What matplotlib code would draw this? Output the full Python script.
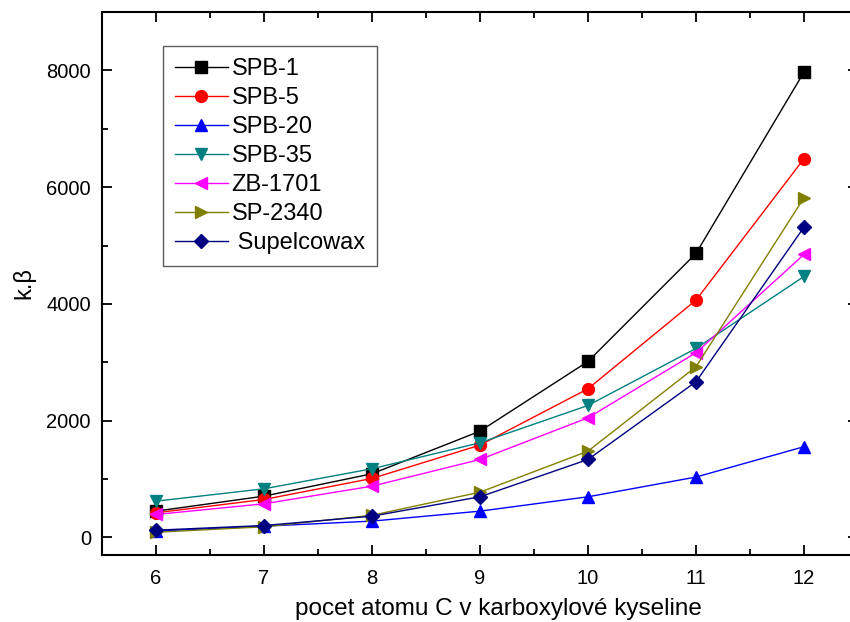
import matplotlib
matplotlib.use("Agg")
import matplotlib.pyplot as plt
from matplotlib.ticker import MultipleLocator

plt.rcParams['font.family'] = ['Liberation Sans', 'DejaVu Sans']

carbons = [6, 7, 8, 9, 10, 11, 12]
spb1 = [451, 708, 1091, 1821, 3015, 4865, 7971]
spb5 = [423, 651, 1011, 1582, 2547, 4065, 6487]
spb20 = [108, 194, 280, 451, 697, 1035, 1555]
spb35 = [622, 834, 1177, 1622, 2261, 3238, 4470]
zb1701 = [394, 577, 879, 1336, 2050, 3164, 4848]
sp2340 = [90, 183, 380, 776, 1479, 2924, 5819]
supelcowax = [125, 205, 365, 697, 1336, 2667, 5316]

series = [
    ("SPB-1", spb1, "black", "s"),
    ("SPB-5", spb5, "red", "o"),
    ("SPB-20", spb20, "blue", "^"),
    ("SPB-35", spb35, "#008080", "v"),
    ("ZB-1701", zb1701, "magenta", "<"),
    ("SP-2340", sp2340, "#808000", ">"),
    (" Supelcowax", supelcowax, "#000080", "D"),
]

fig = plt.figure(figsize=(8.5, 6.22), dpi=100)
ax = fig.add_axes([102/850, 67/622, (858-102)/850, (555-12)/622])

for name, vals, col, mk in series:
    ms = 7 if mk == "D" else 8.5
    ax.plot(carbons, vals, color=col, marker=mk, markersize=ms, linewidth=1,
            label=name, markeredgecolor=col, markerfacecolor=col)

ax.set_xlim(5.5, 12.5)
ax.set_ylim(-300, 9000)
ax.xaxis.set_major_locator(MultipleLocator(1))
ax.xaxis.set_minor_locator(MultipleLocator(0.5))
ax.yaxis.set_major_locator(MultipleLocator(2000))
ax.yaxis.set_minor_locator(MultipleLocator(1000))
ax.tick_params(which='both', direction='in', top=True, right=True, width=1.3, labelsize=14.5)
ax.tick_params(which='major', length=7)
ax.tick_params(which='minor', length=4)
ax.tick_params(axis='x', pad=10)
ax.tick_params(axis='y', pad=8)
for s in ax.spines.values():
    s.set_linewidth(1.5)

ax.set_xlabel("pocet atomu C v karboxylové kyseline", fontsize=17.5)
ax.xaxis.set_label_coords(0.525, -0.079)
ax.set_ylabel("k.β", fontsize=17, labelpad=8)

leg = fig.legend(loc='upper left', bbox_to_anchor=(163/850, 1-46/622), fontsize=17,
                 frameon=True, fancybox=False, handlelength=2.25, borderaxespad=0,
                 labelspacing=0.3, borderpad=0.5, handletextpad=0.15)
leg.get_frame().set_edgecolor('#333333')
leg.get_frame().set_linewidth(1.0)

fig.savefig("out.png", dpi=100)
